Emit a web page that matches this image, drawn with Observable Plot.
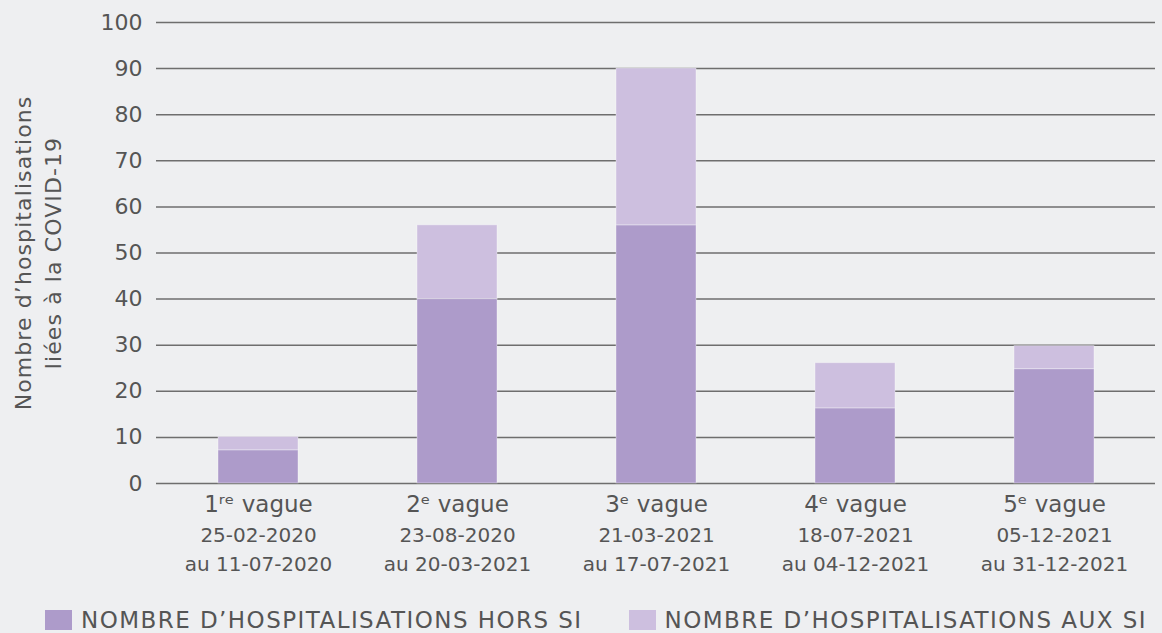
<!DOCTYPE html>
<html><head><meta charset="utf-8">
<script src="https://cdn.jsdelivr.net/npm/d3@7"></script>
<script src="https://cdn.jsdelivr.net/npm/@observablehq/plot@0.6"></script>
<style>
html,body{margin:0;padding:0;background:#eeeff1;}
#wrap{width:1162px;height:633px;overflow:hidden;font-family:"DejaVu Sans",sans-serif;color:#555;}
#chart svg{display:block;}
#chart .ylab text{letter-spacing:1.1px;}
#legend{display:flex;align-items:center;height:26px;padding-top:16px;padding-left:45px;box-sizing:content-box;}
.item{display:flex;align-items:center;margin-right:46px;}
.sw{width:27px;height:20px;margin-right:9px;}
.lab{font-size:23px;line-height:26px;letter-spacing:1.45px;white-space:nowrap;}
</style></head><body>
<div id="wrap"><div id="chart"></div><div id="legend"></div></div>
<script>
const waves = ["1ʳᵉ vague","2ᵉ vague","3ᵉ vague","4ᵉ vague","5ᵉ vague"];
const debuts = ["25-02-2020","23-08-2020","21-03-2021","18-07-2021","05-12-2021"];
const fins = ["au 11-07-2020","au 20-03-2021","au 17-07-2021","au 04-12-2021","au 31-12-2021"];
const horsSI = [7.2, 40, 56, 16.3, 24.8];
const auxSI = [2.9, 16, 34, 9.8, 5.0];
const series = ["NOMBRE D’HOSPITALISATIONS HORS SI","NOMBRE D’HOSPITALISATIONS AUX SI"];
const colors = ["#ad9bca","#cdbfdf"];
const yTicks = [0,10,20,30,40,50,60,70,80,90,100];
const yLabel = "Nombre d’hospitalisations\nliées à la COVID-19";

const data = waves.flatMap((w,i)=>[
  {wave:w, serie:series[0], value:horsSI[i]},
  {wave:w, serie:series[1], value:auxSI[i]}
]);

const plot = Plot.plot({
  width:1162, height:591,
  marginTop:22, marginBottom:108, marginLeft:156, marginRight:7,
  style:{background:"transparent", fontFamily:"DejaVu Sans, sans-serif", color:"#555"},
  x:{domain:waves, paddingInner:0.6, paddingOuter:0.3, label:null},
  y:{domain:[0,100], label:null},
  color:{domain:series, range:colors},
  marks:[
    Plot.ruleY(yTicks, {stroke:"#6e6e6e", strokeWidth:1.5}),
    Plot.barY(data, {x:"wave", y:"value", fill:"serie", order:series, stroke:"#ffffff", strokeOpacity:0.35, strokeWidth:1}),
    Plot.axisY(yTicks, {tickSize:0, tickPadding:14, fontSize:22, label:null, fill:"#555"}),
    Plot.axisX({tickSize:0, tickPadding:12, fontSize:23, label:null, fill:"#555"}),
    Plot.axisX({tickSize:0, tickPadding:38, fontSize:20, lineHeight:1.45, label:null, fill:"#555",
      tickFormat:(d)=>{const i=waves.indexOf(d); return debuts[i]+"\n"+fins[i];}}),
    Plot.text([yLabel], {className:"ylab", frameAnchor:"left", textAnchor:"middle", lineAnchor:"middle", rotate:-90, dx:-120, fontSize:22, lineHeight:1.36, fill:"#555"})
  ]
});
document.getElementById("chart").appendChild(plot);

const legend = document.getElementById("legend");
series.forEach((s,i)=>{
  const it = document.createElement("div"); it.className="item";
  const sw = document.createElement("div"); sw.className="sw"; sw.style.background=colors[i];
  const lb = document.createElement("span"); lb.className="lab"; lb.textContent=s;
  it.appendChild(sw); it.appendChild(lb); legend.appendChild(it);
});
</script></body></html>
